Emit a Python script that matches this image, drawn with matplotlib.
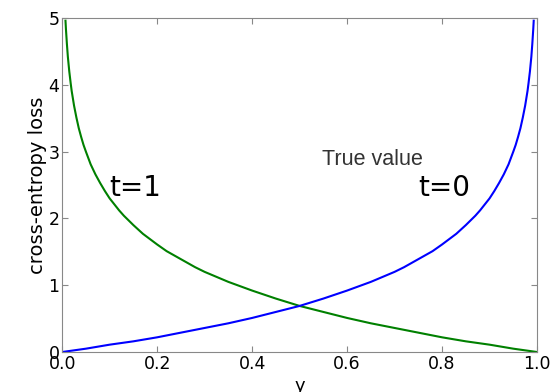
import matplotlib
matplotlib.use('Agg')
import matplotlib.pyplot as plt

# curva t=1 (verde)
y_t1 = [0.007, 0.008, 0.01, 0.012, 0.015, 0.018, 0.02, 0.025, 0.03, 0.035, 0.04, 0.045, 0.05, 0.06,
        0.07, 0.08, 0.09, 0.1, 0.11, 0.12, 0.13, 0.15, 0.17, 0.2, 0.22, 0.25, 0.28, 0.3, 0.35,
        0.4, 0.45, 0.5, 0.55, 0.6, 0.65, 0.7, 0.75, 0.8, 0.85, 0.9, 0.95, 1.0]
loss_t1 = [4.96, 4.83, 4.61, 4.42, 4.20, 4.02, 3.91, 3.69, 3.51, 3.35, 3.22, 3.10, 3.00, 2.81,
           2.66, 2.53, 2.41, 2.30, 2.21, 2.12, 2.04, 1.90, 1.77, 1.61, 1.51, 1.39, 1.27, 1.20, 1.05,
           0.92, 0.80, 0.69, 0.60, 0.51, 0.43, 0.36, 0.29, 0.22, 0.16, 0.11, 0.05, 0.0]

# curva t=0 (azul)
y_t0 = [0.0, 0.05, 0.1, 0.15, 0.2, 0.25, 0.3, 0.35, 0.4, 0.45, 0.5, 0.55, 0.6, 0.65, 0.7,
        0.72, 0.75, 0.78, 0.8, 0.83, 0.85, 0.87, 0.88, 0.89, 0.9, 0.91, 0.92, 0.93, 0.94, 0.95,
        0.955, 0.96, 0.965, 0.97, 0.975, 0.98, 0.982, 0.985, 0.988, 0.99, 0.992, 0.993]
loss_t0 = [0.0, 0.05, 0.11, 0.16, 0.22, 0.29, 0.36, 0.43, 0.51, 0.60, 0.69, 0.80, 0.92, 1.05, 1.20,
           1.27, 1.39, 1.51, 1.61, 1.77, 1.90, 2.04, 2.12, 2.21, 2.30, 2.41, 2.53, 2.66, 2.81, 3.00,
           3.10, 3.22, 3.35, 3.51, 3.69, 3.91, 4.02, 4.20, 4.42, 4.61, 4.83, 4.96]

fig = plt.figure(figsize=(5.6, 3.92), dpi=100)
ax = fig.add_axes([0.111, 0.102, 0.848, 0.852])

ax.plot(y_t1, loss_t1, color=(0, 0.5, 0), lw=1.5)
ax.plot(y_t0, loss_t0, color=(0, 0, 1), lw=1.5)

ax.set_xlim(0, 1)
ax.set_ylim(0, 5)
ax.set_xticks([0.0, 0.2, 0.4, 0.6, 0.8, 1.0])
ax.set_xticklabels(['0.0', '0.2', '0.4', '0.6', '0.8', '1.0'])
ax.set_yticks([0, 1, 2, 3, 4, 5])
ax.tick_params(direction='in', top=True, right=True, labelsize=12.5, length=4, pad=2,
               color='#888888')
for s in ax.spines.values():
    s.set_color('#888888')

ax.set_xlabel('y', fontsize=13, labelpad=3)
ax.set_ylabel('cross-entropy loss', fontsize=14, labelpad=1)

ax.text(0.10, 2.45, 't=1', fontsize=20, va='center')
ax.text(0.75, 2.45, 't=0', fontsize=20, va='center')
ax.text(0.547, 2.88, 'True value', fontsize=15.5, va='center', color='#333333',
        family='Liberation Sans')

fig.savefig('out.png', dpi=100)
